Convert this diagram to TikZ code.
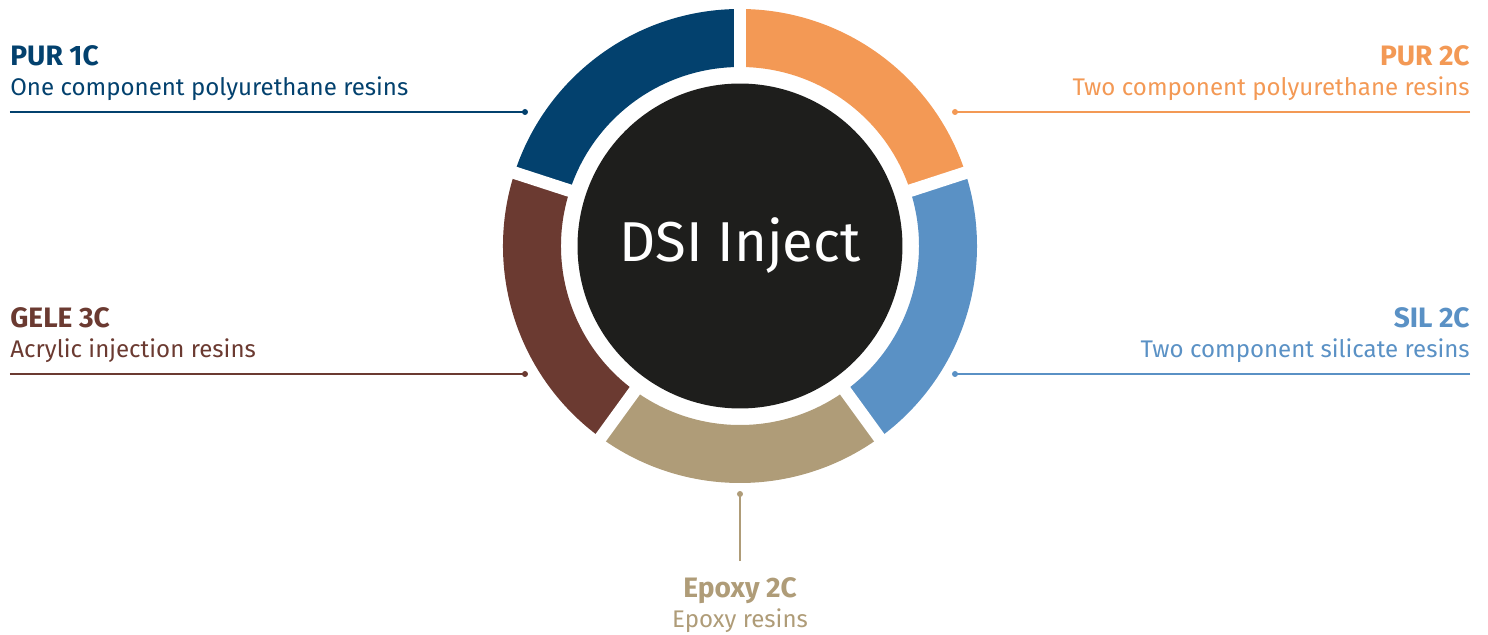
\documentclass[tikz,border=0pt]{standalone}
\usepackage{fontspec}
\setmainfont{Fira Sans}
\definecolor{purone}{HTML}{03416E}
\definecolor{purtwo}{HTML}{F39955}
\definecolor{siltwo}{HTML}{5A91C5}
\definecolor{epoxy}{HTML}{AF9C78}
\definecolor{gele}{HTML}{6B3A31}
\definecolor{hub}{HTML}{1E1E1C}
\tikzset{
  title/.style={text=#1, font=\fontsize{16}{18}\selectfont\bfseries, inner sep=0pt},
  subtitle/.style={text=#1, font=\fontsize{13.7}{15}\selectfont, inner sep=0pt},
  leader/.style={draw=#1, line width=0.03cm},
  gapline/.style={draw=white, line width=0.252cm}
}
\begin{document}
\begin{tikzpicture}[x=0.02cm, y=0.02cm]
\useasboundingbox (-740,-389) rectangle (748,246);
\foreach \a/\b/\c in {90/162/purone, 18/90/purtwo, -54/18/siltwo, -126/-54/epoxy, 162/234/gele}
  \fill[\c] (\a:237) arc[start angle=\a, end angle=\b, radius=237] -- (\b:179) arc[start angle=\b, end angle=\a, radius=179] -- cycle;
\foreach \a in {90, 18, -54, -126, 162}
  \draw[gapline] (0,0) -- (\a:250);
\node[circle, fill=hub, minimum size=6.5cm, inner sep=0pt, text=white, font=\fontsize{32}{36}\selectfont] (hub) at (0,0) {DSI Inject};

\node[title=purone, anchor=base west] (purone-t) at (-730,180) {PUR 1C};
\node[subtitle=purone, anchor=base west] (purone-s) at (-730,150) {One component polyurethane resins};
\coordinate (purone-end) at (-730,134);
\coordinate (purone-dot) at (-215,134);
\draw[leader=purone] (purone-end) -- (purone-dot);
\fill[purone] (purone-dot) circle (3);

\node[title=purtwo, anchor=base east] (purtwo-t) at (730,180) {PUR 2C};
\node[subtitle=purtwo, anchor=base east] (purtwo-s) at (730,150) {Two component polyurethane resins};
\coordinate (purtwo-end) at (730,134);
\coordinate (purtwo-dot) at (215,134);
\draw[leader=purtwo] (purtwo-end) -- (purtwo-dot);
\fill[purtwo] (purtwo-dot) circle (3);

\node[title=gele, anchor=base west] (gele-t) at (-730,-82) {GELE 3C};
\node[subtitle=gele, anchor=base west] (gele-s) at (-730,-112) {Acrylic injection resins};
\coordinate (gele-end) at (-730,-128);
\coordinate (gele-dot) at (-215,-128);
\draw[leader=gele] (gele-end) -- (gele-dot);
\fill[gele] (gele-dot) circle (3);

\node[title=siltwo, anchor=base east] (siltwo-t) at (730,-82) {SIL 2C};
\node[subtitle=siltwo, anchor=base east] (siltwo-s) at (730,-112) {Two component silicate resins};
\coordinate (siltwo-end) at (730,-128);
\coordinate (siltwo-dot) at (215,-128);
\draw[leader=siltwo] (siltwo-end) -- (siltwo-dot);
\fill[siltwo] (siltwo-dot) circle (3);

\node[title=epoxy, anchor=base] (epoxy-t) at (0,-351) {Epoxy 2C};
\node[subtitle=epoxy, anchor=base] (epoxy-s) at (0,-381) {Epoxy resins};
\coordinate (epoxy-end) at (0,-315);
\coordinate (epoxy-dot) at (0,-248);
\draw[leader=epoxy] (epoxy-end) -- (epoxy-dot);
\fill[epoxy] (epoxy-dot) circle (3);
\end{tikzpicture}
\end{document}
